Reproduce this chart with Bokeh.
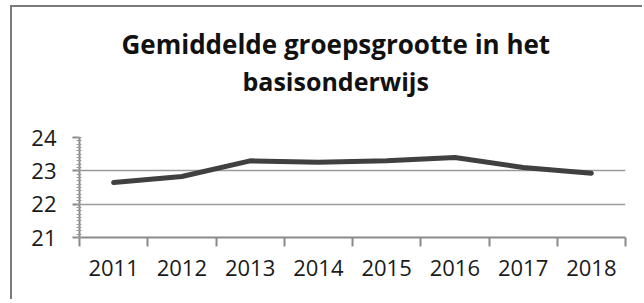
import numpy as np
from bokeh.plotting import figure
from bokeh.models import Range1d, FixedTicker, Title, LinearAxis
from bokeh.embed import file_html
from bokeh.resources import INLINE

years = ["2011", "2012", "2013", "2014", "2015", "2016", "2017", "2018"]
values = [22.65, 22.83, 23.30, 23.26, 23.30, 23.40, 23.10, 22.93]
y_ticks = [21, 22, 23, 24]
title_lines = ["Gemiddelde groepsgrootte in het", "basisonderwijs"]

FONT = "Open Sans"
n = len(years)
xs = np.arange(n) + 0.5

p = figure(width=632, height=294, output_backend="svg", toolbar_location=None,
           x_range=Range1d(0, n), y_range=Range1d(21, 24),
           min_border_left=67, min_border_right=19, min_border_top=130, min_border_bottom=64)
p.title.visible = False
p.outline_line_color = None
p.background_fill_color = "white"
p.border_fill_color = "white"
p.styles = {"border-left": "2px solid #7a7a7a", "border-top": "2px solid #7a7a7a",
            "margin-left": "10px", "margin-top": "5px"}

p.line(xs, values, line_color="#404040", line_width=5, line_cap="round", line_join="round")

# x axis
p.xaxis.ticker = FixedTicker(ticks=list(xs), minor_ticks=list(np.arange(n + 1)))
p.xaxis.major_label_overrides = {float(x): y for x, y in zip(xs, years)}
p.xaxis.major_tick_out = 0
p.xaxis.major_tick_in = 0
p.xaxis.minor_tick_out = 9
p.xaxis.minor_tick_in = 0
p.xaxis.minor_tick_line_color = "#8a8a8a"
p.xaxis.minor_tick_line_width = 2
p.xaxis.axis_line_color = "#8a8a8a"
p.xaxis.axis_line_width = 2
p.xaxis.major_label_text_font = FONT
p.xaxis.major_label_text_font_size = "22px"
p.xaxis.major_label_text_color = "#1a1a1a"
p.xaxis.major_label_standoff = 13

# y axis
p.yaxis.ticker = FixedTicker(ticks=y_ticks, minor_ticks=list(np.round(np.arange(21, 24.01, 0.1), 2)))
p.yaxis.major_tick_out = 7
p.yaxis.major_tick_in = 0
p.yaxis.major_tick_line_color = "#8a8a8a"
p.yaxis.major_tick_line_width = 2
p.yaxis.minor_tick_out = 3
p.yaxis.minor_tick_in = 2
p.yaxis.minor_tick_line_color = "#9a9a9a"
p.yaxis.axis_line_color = "#8a8a8a"
p.yaxis.axis_line_width = 2
p.yaxis.major_label_text_font = FONT
p.yaxis.major_label_text_font_size = "22px"
p.yaxis.major_label_text_color = "#1a1a1a"
p.yaxis.major_label_standoff = 16

p.xgrid.grid_line_color = None
p.ygrid.ticker = FixedTicker(ticks=y_ticks)
p.ygrid.grid_line_color = "#9a9a9a"
p.ygrid.grid_line_width = 1.5

# invisible spacer between plot area and title
spacer = LinearAxis(ticker=FixedTicker(ticks=[0]), axis_line_color=None,
                    major_tick_line_color=None, minor_tick_line_color=None,
                    major_tick_out=40, major_tick_in=0, minor_tick_out=0, minor_tick_in=0,
                    major_label_standoff=0, major_label_text_font_size="1px",
                    major_label_overrides={0: ""})
p.add_layout(spacer, "above")

# title: second line nearest to the plot, first line above it
for txt, off, standoff, size in [(title_lines[1], 163, 0, "25px"), (title_lines[0], 42, 0, "26px")]:
    p.add_layout(Title(text=txt, align="left", offset=off, standoff=standoff,
                       text_font=FONT, text_font_style="bold", text_font_size=size,
                       text_color="#111111"), "above")

open("out.html", "w").write(file_html(p, INLINE))
